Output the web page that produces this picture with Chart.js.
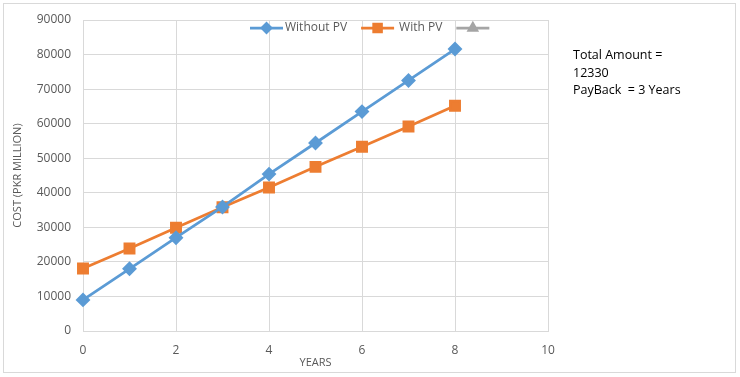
<!DOCTYPE html>
<html>
<head>
<meta charset="utf-8">
<script src="https://cdn.jsdelivr.net/npm/chart.js@4/dist/chart.umd.min.js"></script>
<style>
  html, body { margin: 0; padding: 0; background: #fff; }
  #wrap { position: relative; width: 740px; height: 377px; }
  #note {
    position: absolute; left: 573px; top: 46px;
    font: 12.5px 'Open Sans', sans-serif; line-height: 17.5px;
    color: #000; white-space: pre;
  }
</style>
</head>
<body>
<div id="wrap">
  <canvas id="chart" width="740" height="377"></canvas>
  <div id="note">Total Amount =
12330
PayBack  = 3 Years</div>
</div>
<script>
const years = [0, 1, 2, 3, 4, 5, 6, 7, 8];
const withoutPV = [9000, 18000, 27000, 35900, 45400, 54400, 63500, 72500, 81600];
const withPV = [18100, 23900, 29900, 35800, 41500, 47500, 53300, 59200, 65200];
const seriesNames = ['Without PV', 'With PV', ''];
const seriesColors = ['#5B9BD5', '#ED7D31', '#A5A5A5'];
const seriesMarkers = ['rectRot', 'rect', 'triangle'];
const markerRadius = [5.5, 6.5, 5];
const legendRadius = [4.5, 5.5, 4.5];
const xTicks = [0, 2, 4, 6, 8, 10];

const FONT = "'Open Sans', sans-serif";
const GRID = '#d9d9d9';
const TICK = '#595959';

const toPoints = vals => vals.map((v, i) => ({ x: years[i], y: v }));
const seriesData = [toPoints(withoutPV), toPoints(withPV), []];

// frame round the whole chart + legend drawn like Excel (line with marker)
const excelLook = {
  id: 'excelLook',
  beforeDraw(chart) {
    const ctx = chart.ctx;
    ctx.save();
    ctx.strokeStyle = GRID;
    ctx.lineWidth = 1;
    ctx.strokeRect(3.5, 3.5, 732, 369);
    ctx.restore();
  },
  afterDraw(chart) {
    const ctx = chart.ctx;
    ctx.save();
    ctx.font = '12px ' + FONT;
    ctx.textBaseline = 'middle';
    let x = 250;
    const y = 28;
    chart.data.datasets.forEach((ds, i) => {
      ctx.strokeStyle = ds.borderColor;
      ctx.lineWidth = 2.75;
      ctx.beginPath();
      ctx.moveTo(x, y);
      ctx.lineTo(x + 33, y);
      ctx.stroke();
      Chart.helpers.drawPoint(ctx, {
        pointStyle: ds.pointStyle,
        radius: legendRadius[i],
        borderWidth: 1,
      }, x + 16.5, y);
      ctx.fillStyle = ds.borderColor;
      ctx.fill();
      x += i === 0 ? 35 : 38;
      if (ds.label) {
        ctx.fillStyle = TICK;
        ctx.fillText(ds.label, x, y);
        x += ctx.measureText(ds.label).width + 14;
      }
    });
    ctx.restore();
  }
};

new Chart(document.getElementById('chart'), {
  type: 'line',
  data: {
    datasets: seriesNames.map((name, i) => ({
      label: name,
      data: seriesData[i],
      borderColor: seriesColors[i],
      backgroundColor: seriesColors[i],
      pointBackgroundColor: seriesColors[i],
      pointBorderColor: seriesColors[i],
      pointStyle: seriesMarkers[i],
      pointRadius: markerRadius[i],
      borderWidth: 2.75,
      tension: 0,
      clip: false,
    })),
  },
  options: {
    responsive: false,
    animation: false,
    layout: { padding: { top: 20, right: 192, left: 0, bottom: 0 } },
    plugins: {
      legend: { display: false },
      tooltip: { enabled: false },
    },
    scales: {
      x: {
        type: 'linear',
        min: 0,
        max: 10,
        afterBuildTicks: s => { s.ticks = xTicks.map(v => ({ value: v })); },
        afterFit: s => { s.height = 46; },
        grid: { color: GRID, drawTicks: false },
        border: { color: GRID },
        ticks: { color: TICK, font: { family: FONT, size: 12 }, padding: 12, callback: v => String(v) },
        title: {
          display: true, text: 'YEARS', color: TICK,
          font: { family: FONT, size: 11 }, padding: { top: 8, bottom: 8 },
        },
      },
      y: {
        min: 0,
        max: 90000,
        afterFit: s => { s.width = 83; },
        grid: { color: GRID, drawTicks: false },
        border: { color: GRID },
        ticks: { stepSize: 10000, color: TICK, font: { family: FONT, size: 12 }, padding: 12, callback: v => String(v) },
        title: {
          display: true, text: 'COST (PKR MILLION)', color: TICK,
          font: { family: FONT, size: 11 }, padding: { top: 11, bottom: 11 },
        },
      },
    },
  },
  plugins: [excelLook],
});
</script>
</body>
</html>
